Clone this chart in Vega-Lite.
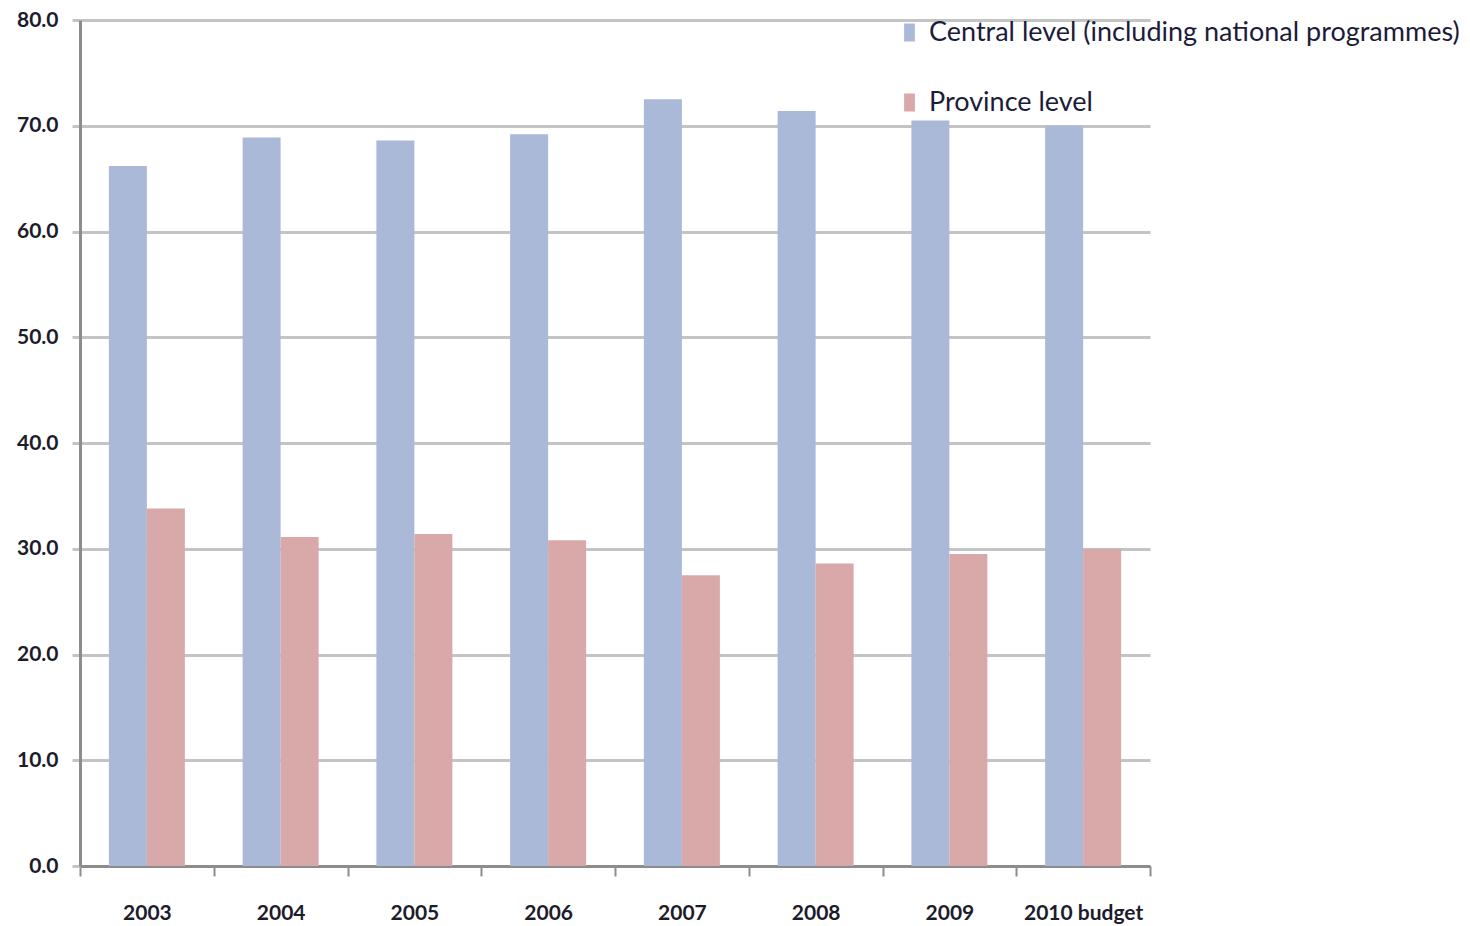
{
  "$schema": "https://vega.github.io/schema/vega-lite/v6.json",
  "width": 1070,
  "height": 846,
  "autosize": {"type": "none"},
  "padding": {"left": 80, "top": 20, "right": 320, "bottom": 60},
  "background": "white",
  "data": {
    "values": [
      {"year": "2003", "level": "Central level (including national programmes)", "share": 66.2},
      {"year": "2003", "level": "Province level", "share": 33.8},
      {"year": "2004", "level": "Central level (including national programmes)", "share": 68.9},
      {"year": "2004", "level": "Province level", "share": 31.1},
      {"year": "2005", "level": "Central level (including national programmes)", "share": 68.6},
      {"year": "2005", "level": "Province level", "share": 31.4},
      {"year": "2006", "level": "Central level (including national programmes)", "share": 69.2},
      {"year": "2006", "level": "Province level", "share": 30.8},
      {"year": "2007", "level": "Central level (including national programmes)", "share": 72.5},
      {"year": "2007", "level": "Province level", "share": 27.5},
      {"year": "2008", "level": "Central level (including national programmes)", "share": 71.4},
      {"year": "2008", "level": "Province level", "share": 28.6},
      {"year": "2009", "level": "Central level (including national programmes)", "share": 70.5},
      {"year": "2009", "level": "Province level", "share": 29.5},
      {"year": "2010 budget", "level": "Central level (including national programmes)", "share": 70.0},
      {"year": "2010 budget", "level": "Province level", "share": 30.0}
    ]
  },
  "mark": {"type": "bar"},
  "encoding": {
    "x": {
      "field": "year",
      "type": "nominal",
      "sort": null,
      "scale": {"paddingInner": 0, "paddingOuter": 0},
      "axis": {
        "title": null,
        "labelAngle": 0,
        "tickBand": "extent",
        "ticks": true,
        "tickSize": 10,
        "tickWidth": 2,
        "tickColor": "#8c8c8c",
        "domainColor": "#8c8c8c",
        "domainWidth": 3,
        "labelFont": "Lato",
        "labelFontSize": 21,
        "labelFontWeight": "bold",
        "labelColor": "#1c1c2c",
        "labelPadding": 26,
        "labelBaseline": "top"
      }
    },
    "xOffset": {
      "field": "level",
      "type": "nominal",
      "sort": ["Central level (including national programmes)", "Province level"],
      "scale": {"paddingInner": 0, "paddingOuter": 0.76}
    },
    "y": {
      "field": "share",
      "type": "quantitative",
      "scale": {"domain": [0, 80], "nice": false},
      "axis": {
        "title": null,
        "values": [0, 10, 20, 30, 40, 50, 60, 70, 80],
        "format": ".1f",
        "grid": true,
        "gridColor": "#c4c4c4",
        "gridWidth": 3,
        "tickColor": "#c4c4c4",
        "tickWidth": 3,
        "tickSize": 8,
        "domainColor": "#8c8c8c",
        "domainWidth": 3,
        "labelFont": "Lato",
        "labelFontSize": 21,
        "labelFontWeight": "bold",
        "labelColor": "#1c1c2c",
        "labelPadding": 14
      }
    },
    "color": {
      "field": "level",
      "type": "nominal",
      "sort": ["Central level (including national programmes)", "Province level"],
      "scale": {
        "domain": ["Central level (including national programmes)", "Province level"],
        "range": ["#aab9d8", "#d9a8a8"]
      },
      "legend": {
        "title": null,
        "orient": "none",
        "legendX": 816,
        "legendY": -1,
        "direction": "vertical",
        "symbolType": "M-0.6,-1H0.6V1H-0.6Z",
        "symbolSize": 324,
        "symbolStrokeWidth": 0,
        "labelFont": "Lato",
        "labelFontSize": 27,
        "labelColor": "#1c1c3a",
        "labelOffset": 6,
        "labelLimit": 700,
        "rowPadding": 42
      }
    }
  },
  "config": {"view": {"stroke": null}}
}
